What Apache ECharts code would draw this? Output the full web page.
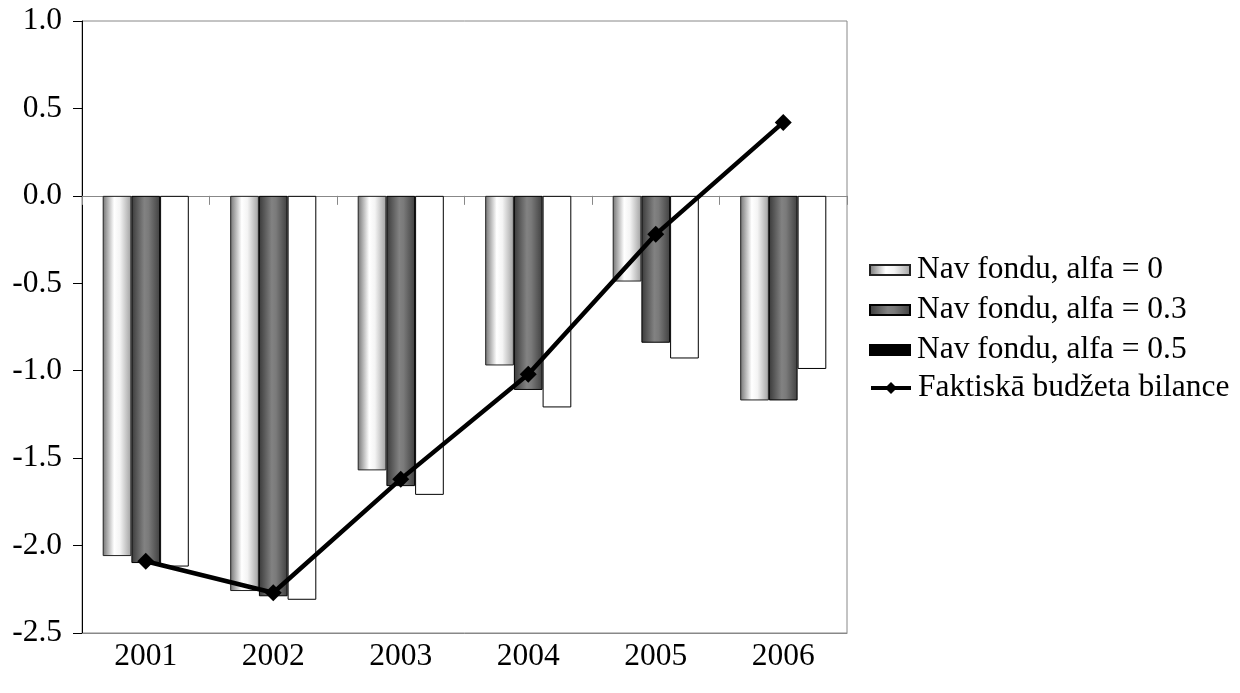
<!DOCTYPE html>
<html>
<head>
<meta charset="utf-8">
<script src="https://cdn.jsdelivr.net/npm/echarts@6/dist/echarts.min.js"></script>
<style>
html,body{margin:0;padding:0;background:#fff;}
#chart{width:1240px;height:693px;}
</style>
</head>
<body>
<div id="chart"></div>
<script>
const years = ['2001', '2002', '2003', '2004', '2005', '2006'];
const seriesNames = ['Nav fondu, alfa = 0', 'Nav fondu, alfa = 0.3', 'Nav fondu, alfa = 0.5', 'Faktiskā budžeta bilance'];
const alfa0 = [-2.06, -2.26, -1.57, -0.97, -0.49, -1.17];
const alfa03 = [-2.10, -2.29, -1.66, -1.11, -0.84, -1.17];
const alfa05 = [-2.12, -2.31, -1.71, -1.21, -0.93, -0.99];
const actual = [-2.09, -2.27, -1.62, -1.02, -0.22, 0.42];

const FONT = '"Liberation Serif", "Times New Roman", serif';
const FS = 31.5;

const lightGrad = new echarts.graphic.LinearGradient(0, 0, 1, 0, [
  {offset: 0, color: '#737373'},
  {offset: 0.4, color: '#ffffff'},
  {offset: 0.6, color: '#f4f4f4'},
  {offset: 1, color: '#a0a0a0'}
]);
const darkGrad = new echarts.graphic.LinearGradient(0, 0, 1, 0, [
  {offset: 0, color: '#3a3a3a'},
  {offset: 0.45, color: '#828282'},
  {offset: 0.6, color: '#7a7a7a'},
  {offset: 1, color: '#404040'}
]);

const legendText = {fontFamily: FONT, fontSize: FS, color: '#000', padding: [0, 0, 0, 2]};

const chart = echarts.init(document.getElementById('chart'), null, {renderer: 'canvas'});
chart.setOption({
  animation: false,
  backgroundColor: '#fff',
  textStyle: {fontFamily: FONT, color: '#000'},
  grid: {left: 82, right: 393, top: 21, bottom: 60, show: true, borderColor: '#888', borderWidth: 1, backgroundColor: 'transparent'},
  legend: [
    {
      orient: 'vertical',
      left: 869,
      top: 254,
      padding: 0,
      itemWidth: 40,
      itemHeight: 10,
      itemGap: 8,
      textStyle: legendText,
      data: [
        {name: seriesNames[0], icon: 'rect'},
        {name: seriesNames[1], icon: 'rect'},
        {name: seriesNames[2], icon: 'rect', itemStyle: {color: '#000', borderColor: '#000'}}
      ]
    },
    {
      orient: 'vertical',
      left: 869,
      top: 372,
      padding: 0,
      itemWidth: 40,
      itemHeight: 15,
      textStyle: legendText,
      data: [
        {name: seriesNames[3], lineStyle: {width: 4, color: '#000'}, itemStyle: {color: '#000'}}
      ]
    }
  ],
  xAxis: [
    {
      type: 'category',
      data: years,
      position: 'bottom',
      axisLine: {show: true, onZero: true, lineStyle: {color: '#888', width: 1}},
      axisTick: {show: true, length: 9, lineStyle: {color: '#888'}},
      axisLabel: {show: false},
      splitLine: {show: false}
    },
    {
      type: 'category',
      data: years,
      position: 'bottom',
      axisLine: {show: true, onZero: false, lineStyle: {color: '#888', width: 1}},
      axisTick: {show: false},
      axisLabel: {show: true, margin: 8, fontFamily: FONT, fontSize: FS, color: '#000'},
      splitLine: {show: false}
    }
  ],
  yAxis: {
    type: 'value',
    min: -2.5,
    max: 1.0,
    interval: 0.5,
    axisLine: {show: true, onZero: false, lineStyle: {color: '#000', width: 1}},
    axisTick: {show: true, length: 9, lineStyle: {color: '#000'}},
    axisLabel: {margin: 20, fontFamily: FONT, fontSize: FS, color: '#000', formatter: v => v.toFixed(1)},
    splitLine: {show: false}
  },
  series: [
    {
      name: seriesNames[0], type: 'bar', data: alfa0, xAxisIndex: 0,
      barWidth: 28.7, barGap: '0%',
      itemStyle: {color: lightGrad, borderColor: '#222', borderWidth: 1}
    },
    {
      name: seriesNames[1], type: 'bar', data: alfa03, xAxisIndex: 0,
      barWidth: 28.7, barGap: '0%',
      itemStyle: {color: darkGrad, borderColor: '#000', borderWidth: 1}
    },
    {
      name: seriesNames[2], type: 'bar', data: alfa05, xAxisIndex: 0,
      barWidth: 28.7, barGap: '0%',
      itemStyle: {color: '#fff', borderColor: '#000', borderWidth: 1}
    },
    {
      name: seriesNames[3], type: 'line', data: actual, xAxisIndex: 0,
      z: 5,
      symbol: 'diamond', symbolSize: 17,
      lineStyle: {color: '#000', width: 4.5},
      itemStyle: {color: '#000'}
    }
  ]
});
</script>
</body>
</html>
